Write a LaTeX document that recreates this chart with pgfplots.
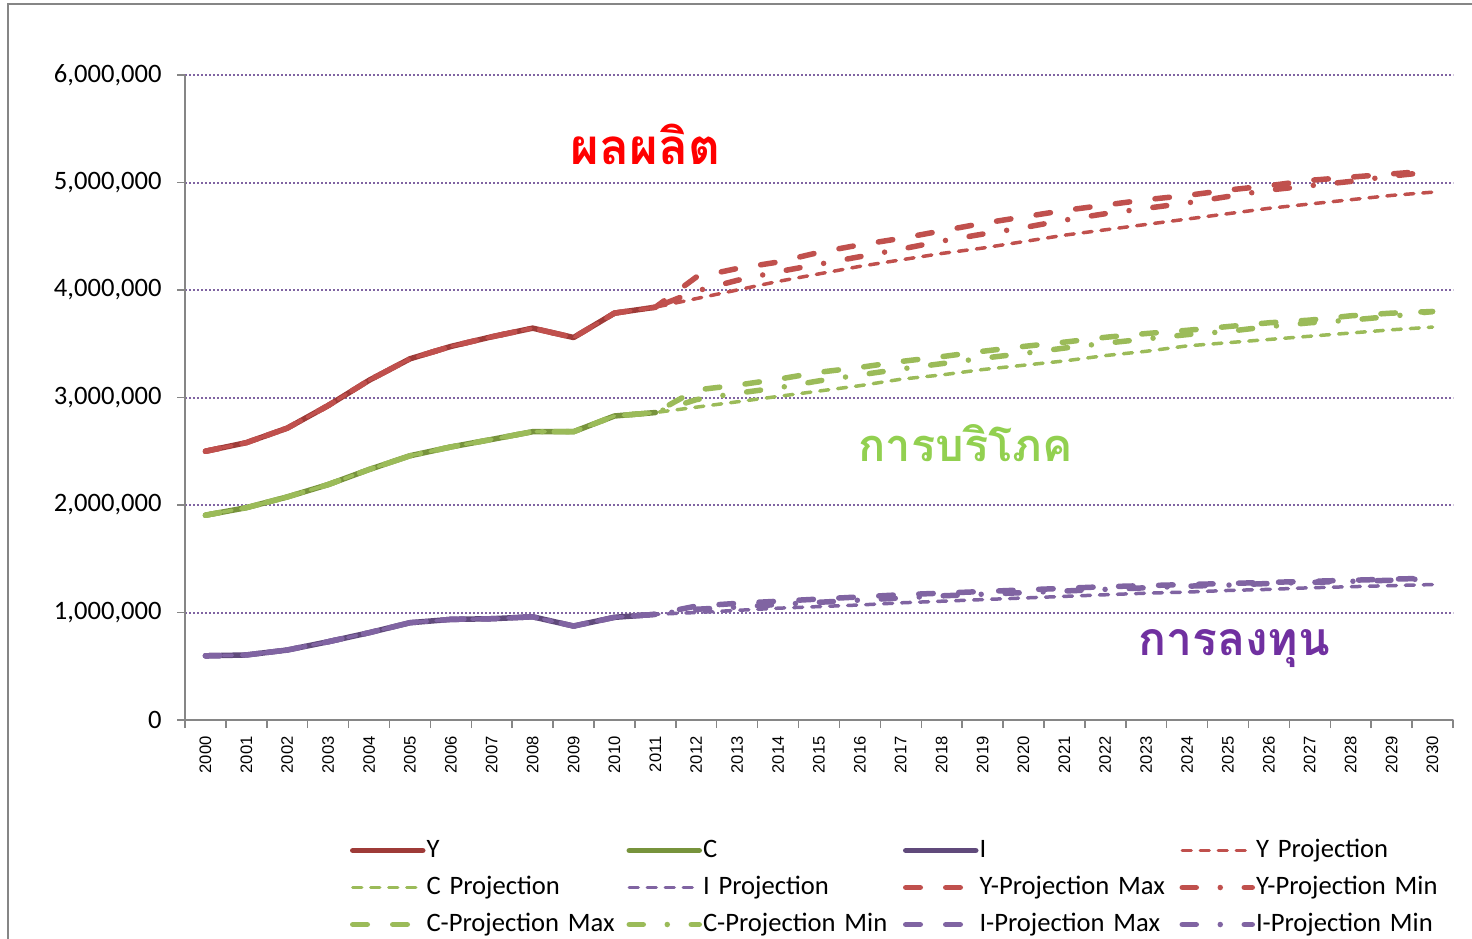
\documentclass[border=0pt]{standalone}
\usepackage{fontspec}
\setmainfont{Carlito}
\newfontfamily\thaifont[Script=Thai]{Loma}
\newfontfamily\arialfont{Liberation Sans}
\usepackage{graphicx}
\usepackage{pgfplots}
\usepackage{pgfplotstable}
\pgfplotsset{compat=1.18}

\definecolor{Ydark}{HTML}{9E3B38}
\definecolor{Yc}{HTML}{C0504D}
\definecolor{Cdark}{HTML}{77933C}
\definecolor{Cc}{HTML}{9BBB59}
\definecolor{Idark}{HTML}{604A7B}
\definecolor{Ic}{HTML}{8064A2}
\definecolor{gridc}{HTML}{8064A2}
\definecolor{axisgray}{HTML}{868686}
\definecolor{thaired}{HTML}{FF0000}
\definecolor{thaigreen}{HTML}{92D050}
\definecolor{thaipurple}{HTML}{7030A0}

\pgfplotstableread{
year Y C I Yp Cp Ip Ymax Ymin Cmax Cmin Imax Imin
2000 2500000 1905000 597000 2500000 1905000 597000 2500000 2500000 1905000 1905000 597000 597000
2001 2580000 1975000 605000 2580000 1975000 605000 2580000 2580000 1975000 1975000 605000 605000
2002 2715000 2075000 651000 2715000 2075000 651000 2715000 2715000 2075000 2075000 651000 651000
2003 2925000 2190000 728000 2925000 2190000 728000 2925000 2925000 2190000 2190000 728000 728000
2004 3160000 2330000 812000 3160000 2330000 812000 3160000 3160000 2330000 2330000 812000 812000
2005 3360000 2458000 905000 3360000 2458000 905000 3360000 3360000 2458000 2458000 905000 905000
2006 3475000 2540000 936000 3475000 2540000 936000 3475000 3475000 2540000 2540000 936000 936000
2007 3565000 2610000 942000 3565000 2610000 942000 3565000 3565000 2610000 2610000 942000 942000
2008 3645000 2682000 960000 3645000 2682000 960000 3645000 3645000 2682000 2682000 960000 960000
2009 3558000 2682000 874000 3558000 2682000 874000 3558000 3558000 2682000 2682000 874000 874000
2010 3785000 2828000 955000 3785000 2828000 955000 3785000 3785000 2828000 2828000 955000 955000
2011 3840000 2860000 983000 3840000 2860000 983000 3840000 3840000 2860000 2860000 983000 983000
2012 nan nan nan 3920000 2910000 1000000 4120000 3990000 3070000 2980000 1060000 1030000
2013 nan nan nan 4000000 2960000 1020000 4200000 4090000 3115000 3040000 1085000 1050000
2014 nan nan nan 4080000 3010000 1040000 4260000 4170000 3170000 3090000 1105000 1075000
2015 nan nan nan 4150000 3060000 1055000 4350000 4240000 3235000 3155000 1125000 1095000
2016 nan nan nan 4220000 3110000 1070000 4420000 4310000 3280000 3210000 1145000 1115000
2017 nan nan nan 4280000 3170000 1090000 4480000 4380000 3335000 3265000 1165000 1135000
2018 nan nan nan 4340000 3210000 1105000 4550000 4455000 3380000 3315000 1180000 1155000
2019 nan nan nan 4390000 3260000 1120000 4620000 4520000 3430000 3365000 1195000 1170000
2020 nan nan nan 4450000 3300000 1135000 4680000 4580000 3475000 3410000 1210000 1185000
2021 nan nan nan 4510000 3340000 1150000 4740000 4650000 3515000 3460000 1225000 1200000
2022 nan nan nan 4560000 3390000 1165000 4790000 4710000 3560000 3505000 1240000 1215000
2023 nan nan nan 4610000 3430000 1180000 4840000 4760000 3595000 3545000 1250000 1230000
2024 nan nan nan 4660000 3480000 1190000 4880000 4810000 3625000 3585000 1260000 1245000
2025 nan nan nan 4710000 3510000 1205000 4930000 4870000 3660000 3615000 1270000 1255000
2026 nan nan nan 4760000 3540000 1215000 4970000 4930000 3695000 3660000 1280000 1270000
2027 nan nan nan 4800000 3570000 1230000 5020000 4970000 3720000 3695000 1290000 1280000
2028 nan nan nan 4840000 3600000 1240000 5050000 5010000 3760000 3720000 1300000 1290000
2029 nan nan nan 4880000 3630000 1250000 5080000 5060000 3785000 3755000 1310000 1300000
2030 nan nan nan 4910000 3655000 1260000 5110000 5100000 3800000 3800000 1320000 1315000
}\data

\tikzset{
  solidl/.style={line width=2.75bp, line join=round, line cap=round, solid},
  projl/.style={line width=1.75bp, line cap=round, line join=round, dash pattern=on 4.5bp off 4.5bp},
  maxl/.style={line width=2.75bp, line cap=round, line join=round, dash pattern=on 7.25bp off 12.75bp},
  minl/.style={line width=2.75bp, line cap=round, line join=round, dash pattern=on 7bp off 12bp on 0bp off 12bp},
}

\begin{document}
\begin{tikzpicture}
\begin{axis}[
  at={(92.5bp,109.5bp)}, anchor=south west,
  scale only axis, width=634bp, height=322.5bp,
  xmin=1999.5, xmax=2030.5, ymin=0, ymax=6000000,
  axis x line*=bottom, axis y line*=left,
  axis line style={axisgray, line width=0.75bp},
  xtick={2000,...,2030},
  minor xtick={1999.5,2000.5,...,2030.5},
  ytick={0,1000000,2000000,3000000,4000000,5000000,6000000},
  minor ytick={0,1000000,2000000,3000000,4000000,5000000,6000000},
  yticklabels={0,{1,000,000},{2,000,000},{3,000,000},{4,000,000},{5,000,000},{6,000,000}},
  major tick length=0pt, minor tick length=4bp, tick align=outside,
  tick style={axisgray, line width=0.75bp},
  ymajorgrids=true,
  major grid style={gridc, line width=1bp, dash pattern=on 1bp off 1bp},
  scaled y ticks=false,
  xticklabel style={font=\arialfont\fontsize{8.3bp}{10bp}\selectfont, rotate=90, anchor=east, inner sep=0pt,
    /pgf/number format/1000 sep={}, /pgf/number format/assume math mode=true},
  xticklabel shift=8bp,
  yticklabel style={font=\fontsize{13.3bp}{16bp}\selectfont, inner sep=0pt, anchor=east},
  yticklabel shift=11.5bp,
  no markers,
  legend columns=4,
  legend cell align=left,
  legend image code/.code={\draw[#1] (0bp,0bp) -- (35bp,0bp);},
  legend style={at={(0.13013,-0.18295)}, anchor=north west, draw=none, fill=none,
    inner sep=0pt, outer sep=0pt, font=\fontsize{13.3bp}{16bp}\selectfont, row sep=6bp,
    nodes={inner sep=0pt, text width=100bp, align=left, text height=9.5bp, text depth=3bp},
    /tikz/every odd column/.append style={column sep=0.5bp}},
]
\addplot[Ydark, solidl] table[x=year, y=Y] {\data};
\addlegendentry{Y}
\addplot[Cdark, solidl] table[x=year, y=C] {\data};
\addlegendentry{C}
\addplot[Idark, solidl] table[x=year, y=I] {\data};
\addlegendentry{I}
\addplot[Yc, projl] table[x=year, y=Yp] {\data};
\addlegendentry{Y Projection}
\addplot[Cc, projl] table[x=year, y=Cp] {\data};
\addlegendentry{C Projection}
\addplot[Ic, projl] table[x=year, y=Ip] {\data};
\addlegendentry{I Projection}
\addplot[Yc, maxl] table[x=year, y=Ymax] {\data};
\addlegendentry{Y-Projection Max}
\addplot[Yc, minl] table[x=year, y=Ymin] {\data};
\addlegendentry{Y-Projection Min}
\addplot[Cc, maxl] table[x=year, y=Cmax] {\data};
\addlegendentry{C-Projection Max}
\addplot[Cc, minl] table[x=year, y=Cmin] {\data};
\addlegendentry{C-Projection Min}
\addplot[Ic, maxl] table[x=year, y=Imax] {\data};
\addlegendentry{I-Projection Max}
\addplot[Ic, minl] table[x=year, y=Imin] {\data};
\addlegendentry{I-Projection Min}

\node[text=thaired, inner sep=0pt] at (axis cs:2010.76,5350000) {\resizebox{75bp}{!}{\thaifont\bfseries ผลผลิต}};
\node[text=thaigreen, inner sep=0pt] at (axis cs:2018.58,2580000) {\resizebox{107bp}{!}{\thaifont\bfseries การบริโภค}};
\node[text=thaipurple, inner sep=0pt] at (axis cs:2025.15,665000) {\resizebox{96bp}{!}{\thaifont\bfseries การลงทุน}};
\end{axis}
\draw[axisgray, line width=0.75bp] (4bp,-2bp) -- (4bp,467.5bp) -- (740bp,467.5bp);
\pgfresetboundingbox
\path[use as bounding box] (0bp,0bp) rectangle (736bp,469.5bp);
\end{tikzpicture}
\end{document}
